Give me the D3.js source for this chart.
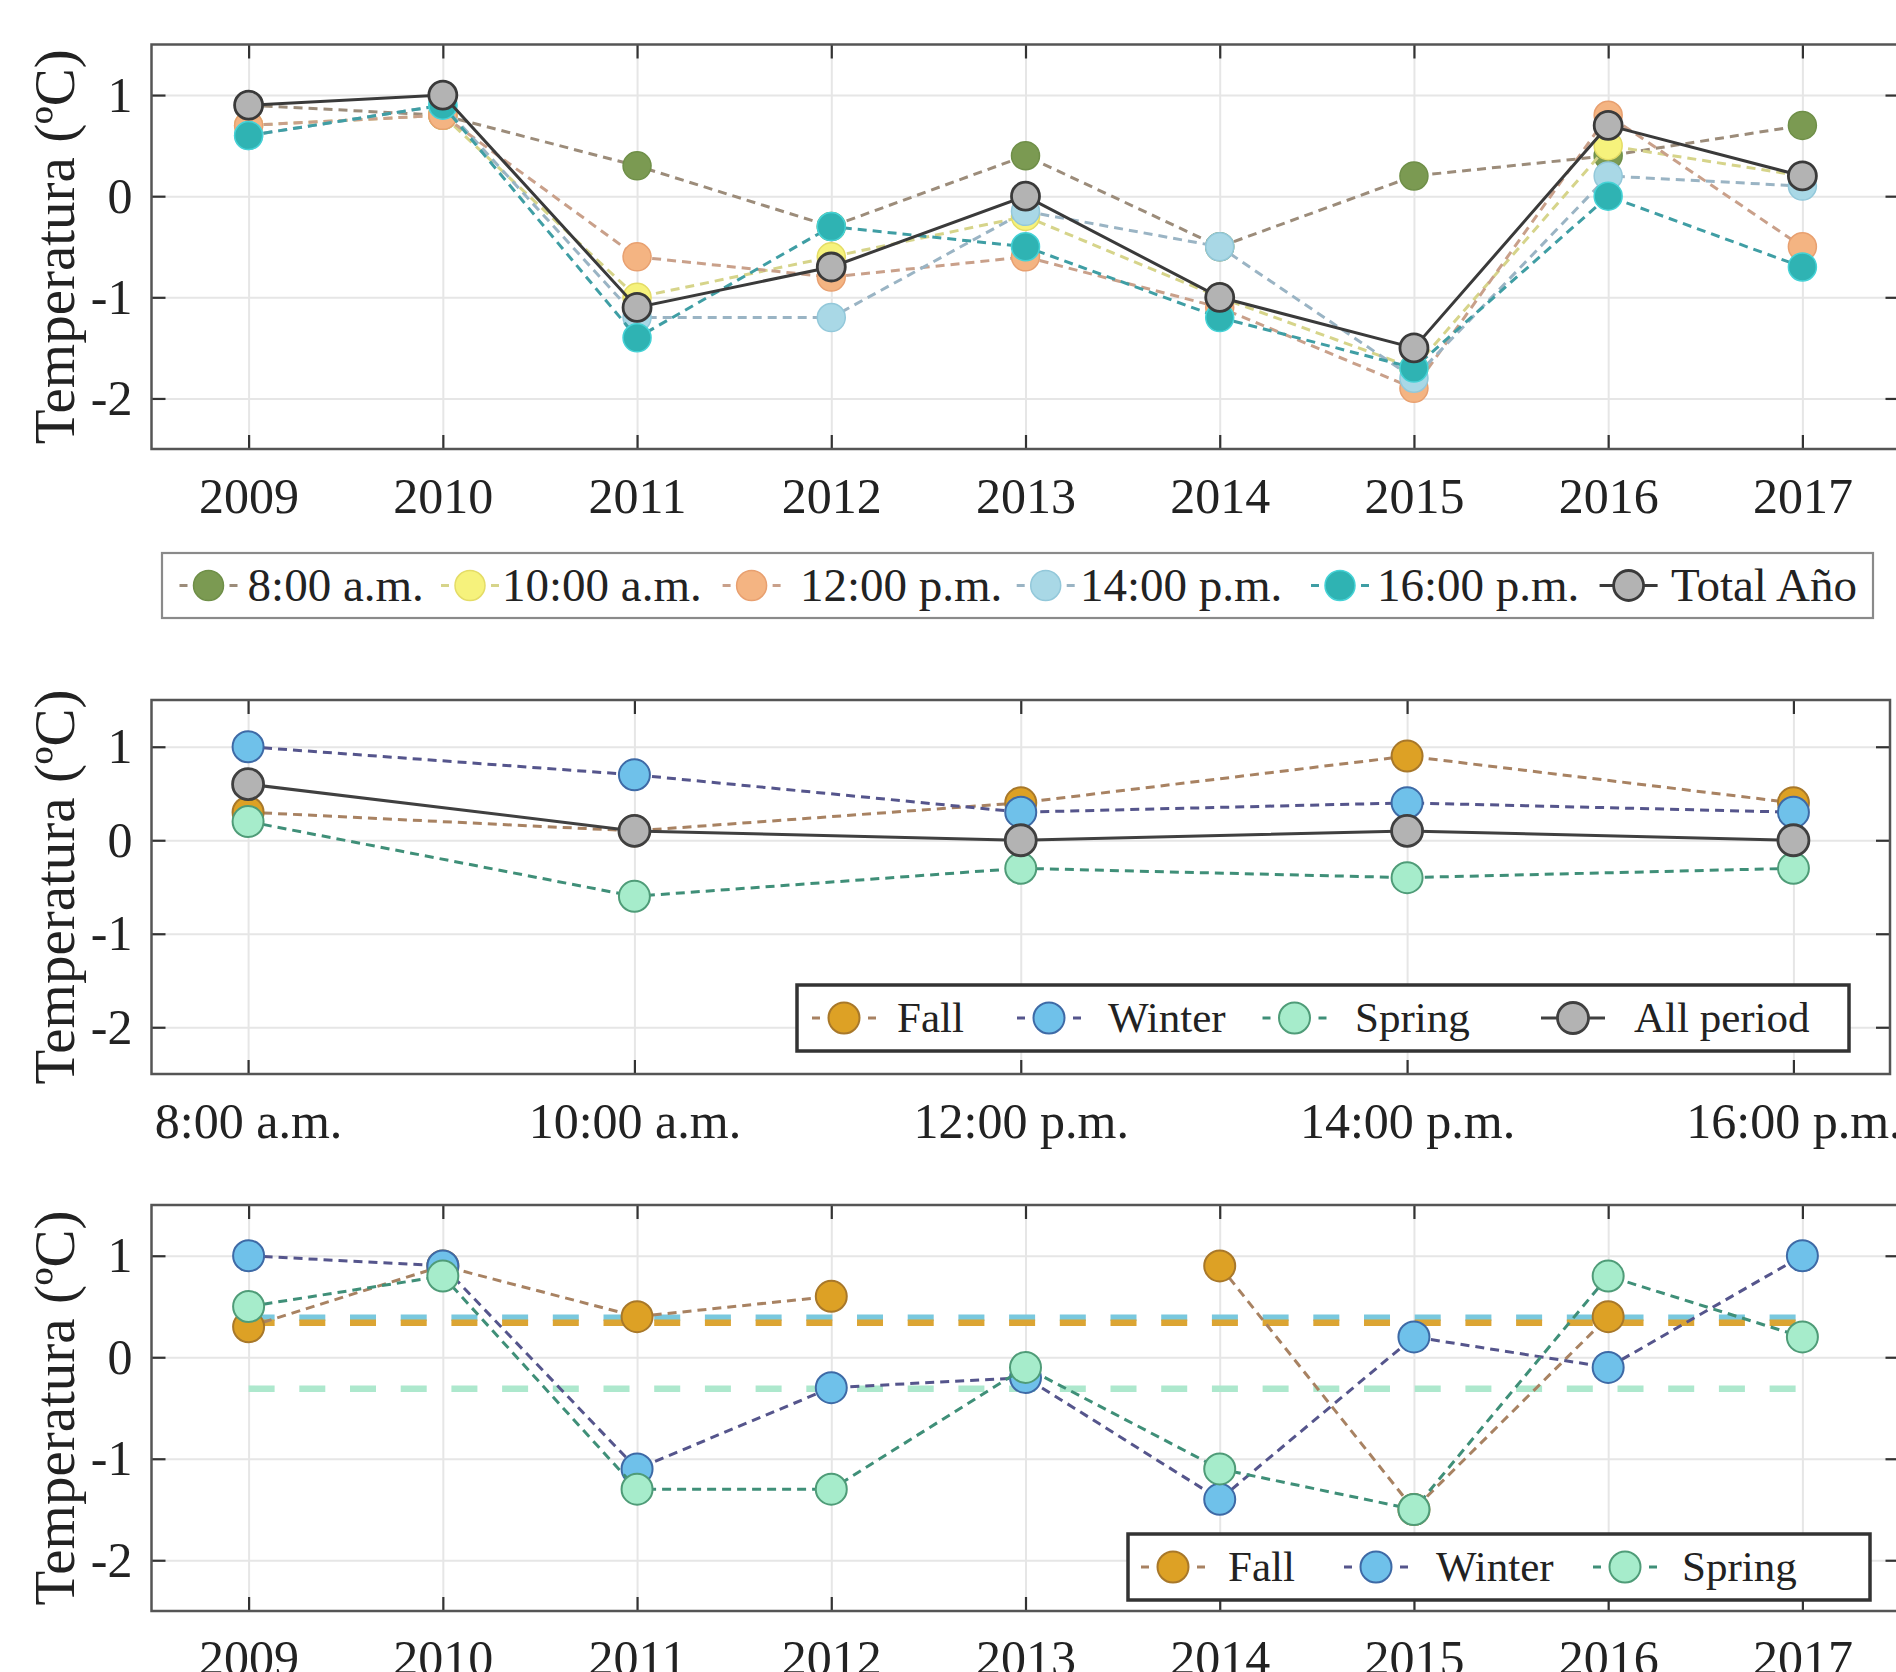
<!DOCTYPE html>
<html>
<head>
<meta charset="utf-8">
<script src="https://cdn.jsdelivr.net/npm/d3@7"></script>
<style>
  body { margin: 0; background: #fff; }
  svg { display: block; }
  text { font-family: "Liberation Serif", "Times New Roman", serif; fill: #222; }
</style>
</head>
<body>
<script>
// ---- data ----
var years = [2009, 2010, 2011, 2012, 2013, 2014, 2015, 2016, 2017];
var hours = ["8:00 a.m.", "10:00 a.m.", "12:00 p.m.", "14:00 p.m.", "16:00 p.m."];
var yTicks = [-2, -1, 0, 1];

// panel 1: anomaly per year for each hour
var hour8  = [0.9, 0.8, 0.3, -0.3, 0.4, -0.5, 0.2, 0.4, 0.7];
var hour10 = [0.7, 0.8, -1.0, -0.6, -0.2, -1.0, -1.7, 0.5, 0.2];
var hour12 = [0.7, 0.8, -0.6, -0.8, -0.6, -1.1, -1.9, 0.8, -0.5];
var hour14 = [0.6, 0.9, -1.2, -1.2, -0.15, -0.5, -1.8, 0.2, 0.1];
var hour16 = [0.6, 0.9, -1.4, -0.3, -0.5, -1.2, -1.7, 0.0, -0.7];
var totalYear = [0.9, 1.0, -1.1, -0.7, 0.0, -1.0, -1.5, 0.7, 0.2];

// panel 2: anomaly per hour for each season
var fallHour   = [0.3, 0.1, 0.4, 0.9, 0.4];
var winterHour = [1.0, 0.7, 0.3, 0.4, 0.3];
var springHour = [0.2, -0.6, -0.3, -0.4, -0.3];
var allHour    = [0.6, 0.1, 0.0, 0.1, 0.0];

// panel 3: anomaly per year for each season (null = no value)
var fallYear   = [0.3, 0.9, 0.4, 0.6, null, 0.9, -1.5, 0.4, null];
var winterYear = [1.0, 0.9, -1.1, -0.3, -0.2, -1.4, 0.2, -0.1, 1.0];
var springYear = [0.5, 0.8, -1.3, -1.3, -0.1, -1.1, -1.5, 0.8, 0.2];
var meanWinter = 0.39, meanFall = 0.34, meanSpring = -0.31;

var W = 1896, H = 1672;
var svg = d3.select("body").append("svg")
    .attr("width", W).attr("height", H);

function fmt(d){ return d < 0 ? "-" + Math.abs(d) : String(d); }

function panel(box, cats, pad, tickLabels){
    var g = svg.append("g");
    var x = d3.scalePoint().domain(cats).range([box.left, box.right]).padding(pad);
    var y = d3.scaleLinear().domain([-2.5, 1.5]).range([box.bottom, box.top]);
    var h = box.bottom - box.top, w = box.right - box.left;

    g.append("rect")
        .attr("x", box.left).attr("y", box.top)
        .attr("width", w).attr("height", h)
        .attr("fill", "#fff");

    // grid
    g.append("g").attr("transform", "translate(0," + box.bottom + ")")
        .call(d3.axisBottom(x).tickSize(-h).tickFormat(""))
        .call(function(s){ s.select(".domain").remove(); s.selectAll("line").attr("stroke", "#e6e6e6").attr("stroke-width", 2); });
    g.append("g").attr("transform", "translate(" + box.left + ",0)")
        .call(d3.axisLeft(y).tickValues(yTicks).tickSize(-w).tickFormat(""))
        .call(function(s){ s.select(".domain").remove(); s.selectAll("line").attr("stroke", "#e6e6e6").attr("stroke-width", 2); });

    // ticks
    function style(s){
        s.attr("font-family", null);
        s.select(".domain").remove();
        s.selectAll("line").attr("stroke", "#333").attr("stroke-width", 2.2);
        s.selectAll("text").attr("font-size", 50).attr("fill", "#222")
            .attr("font-family", "'Liberation Serif', 'Times New Roman', serif");
    }
    g.append("g").attr("transform", "translate(0," + box.bottom + ")")
        .call(d3.axisBottom(x).tickSize(-14).tickPadding(28).tickFormat(function(d, i){ return tickLabels[i]; }))
        .call(style);
    g.append("g").attr("transform", "translate(0," + box.top + ")")
        .call(d3.axisTop(x).tickSize(-14).tickFormat(""))
        .call(style);
    g.append("g").attr("transform", "translate(" + box.left + ",0)")
        .call(d3.axisLeft(y).tickValues(yTicks).tickSize(-14).tickPadding(19).tickFormat(fmt))
        .call(style);
    g.append("g").attr("transform", "translate(" + box.right + ",0)")
        .call(d3.axisRight(y).tickValues(yTicks).tickSize(-14).tickFormat(""))
        .call(style);

    g.append("rect")
        .attr("x", box.left).attr("y", box.top)
        .attr("width", w).attr("height", h)
        .attr("fill", "none").attr("stroke", "#555").attr("stroke-width", 2.5);

    g.append("text")
        .attr("transform", "translate(74," + (box.top + h / 2) + ") rotate(-90)")
        .attr("text-anchor", "middle")
        .attr("font-size", 57)
        .text("Temperatura (ºC)");

    return {g: g, x: x, y: y, plot: g.append("g")};
}

function series(p, cats, vals, s){
    var pts = cats.map(function(c, i){ return [c, vals[i]]; });
    var line = d3.line()
        .defined(function(d){ return d[1] != null; })
        .x(function(d){ return p.x(d[0]); })
        .y(function(d){ return p.y(d[1]); });
    p.plot.append("path")
        .attr("d", line(pts))
        .attr("fill", "none")
        .attr("stroke", s.line)
        .attr("stroke-width", s.dash ? 3 : 3)
        .attr("stroke-dasharray", s.dash ? "9,6" : null);
    p.plot.selectAll(null)
        .data(pts.filter(function(d){ return d[1] != null; }))
        .enter().append("circle")
        .attr("cx", function(d){ return p.x(d[0]); })
        .attr("cy", function(d){ return p.y(d[1]); })
        .attr("r", s.r)
        .attr("fill", s.fill)
        .attr("stroke", s.edge)
        .attr("stroke-width", s.ew);
}

function legend(box, items, centers, texts, fs, r, half, border){
    var g = svg.append("g");
    g.append("rect")
        .attr("x", box.left).attr("y", box.top)
        .attr("width", box.right - box.left).attr("height", box.bottom - box.top)
        .attr("fill", "#fff").attr("stroke", border.c).attr("stroke-width", border.w);
    var cy = (box.top + box.bottom) / 2;
    items.forEach(function(s, i){
        var cx = centers[i];
        var gap = 2 * half - 16;
        g.append("line")
            .attr("x1", cx - half).attr("x2", cx + half)
            .attr("y1", cy).attr("y2", cy)
            .attr("stroke", s.line).attr("stroke-width", 2.8)
            .attr("stroke-dasharray", s.dash ? "8," + gap + ",8" : null);
        g.append("circle")
            .attr("cx", cx).attr("cy", cy).attr("r", r)
            .attr("fill", s.fill).attr("stroke", s.edge).attr("stroke-width", s.ew);
        g.append("text")
            .attr("x", texts[i]).attr("y", cy + fs * 0.33)
            .attr("font-size", fs)
            .text(s.name);
    });
}

// ---- panel 1 ----
var p1 = panel({left: 151.5, right: 1899.5, top: 44.5, bottom: 449}, years, 0.5, years);
var s1 = [
    {name: "8:00 a.m.",  v: hour8,  fill: "#7b9a52", edge: "#6f8f48", line: "#9c8c7a", dash: true, r: 14, ew: 1.5},
    {name: "10:00 a.m.", v: hour10, fill: "#f6f27c", edge: "#e4dc66", line: "#d6d48a", dash: true, r: 14, ew: 1.5},
    {name: "12:00 p.m.", v: hour12, fill: "#f4b482", edge: "#e8a070", line: "#c9a08a", dash: true, r: 14, ew: 1.5},
    {name: "14:00 p.m.", v: hour14, fill: "#a9d8e6", edge: "#93c8da", line: "#9ab4c4", dash: true, r: 14, ew: 1.5},
    {name: "16:00 p.m.", v: hour16, fill: "#2fb3b3", edge: "#45d2d6", line: "#3f9ea4", dash: true, r: 14, ew: 1.5},
    {name: "Total Año",  v: totalYear, fill: "#b3b3b3", edge: "#3a3a3a", line: "#3a3a3a", dash: false, r: 14, ew: 2.8}
];
s1.forEach(function(s){ series(p1, years, s.v, s); });
legend({left: 162, right: 1873, top: 553, bottom: 618}, s1,
    [208.5, 470, 751.6, 1045.7, 1340, 1628.6],
    [247.6, 502, 800, 1080, 1377, 1671], 47, 15, 29, {c: "#8a8a8a", w: 2.2});

// ---- panel 2 ----
var p2 = panel({left: 151.5, right: 1890, top: 700, bottom: 1074}, hours, 0.25, hours);
var s2 = [
    {name: "Fall",       v: fallHour,   fill: "#dda125", edge: "#a8782a", line: "#a88262", dash: true, r: 15.5, ew: 2},
    {name: "Winter",     v: winterHour, fill: "#6fc1ea", edge: "#3e6aa6", line: "#55558c", dash: true, r: 15.5, ew: 2},
    {name: "Spring",     v: springHour, fill: "#a6eccb", edge: "#4f9c78", line: "#3f8f78", dash: true, r: 15.5, ew: 2},
    {name: "All period", v: allHour,    fill: "#b3b3b3", edge: "#404040", line: "#404040", dash: false, r: 15.5, ew: 2.8}
];
s2.forEach(function(s){ series(p2, hours, s.v, s); });
legend({left: 797, right: 1849, top: 985, bottom: 1051}, s2,
    [844, 1049, 1294.5, 1573],
    [897, 1108, 1355, 1634], 43, 15.5, 32, {c: "#333", w: 3.5});

// ---- panel 3 ----
var p3 = panel({left: 151.5, right: 1899.5, top: 1205, bottom: 1611}, years, 0.5, years);
var means = [
    {v: meanWinter, c: "#79c8de"},
    {v: meanFall,   c: "#dca533"},
    {v: meanSpring, c: "#ade8cd"}
];
means.forEach(function(m){
    p3.plot.append("line")
        .attr("x1", p3.x(years[0])).attr("x2", p3.x(years[years.length - 1]))
        .attr("y1", p3.y(m.v)).attr("y2", p3.y(m.v))
        .attr("stroke", m.c).attr("stroke-width", 6.5)
        .attr("stroke-dasharray", "26,24.7");
});
var s3 = [
    {name: "Fall",   v: fallYear,   fill: "#dda125", edge: "#a8782a", line: "#a88262", dash: true, r: 15.5, ew: 2},
    {name: "Winter", v: winterYear, fill: "#6fc1ea", edge: "#3e6aa6", line: "#55558c", dash: true, r: 15.5, ew: 2},
    {name: "Spring", v: springYear, fill: "#a6eccb", edge: "#4f9c78", line: "#3f8f78", dash: true, r: 15.5, ew: 2}
];
s3.forEach(function(s){ series(p3, years, s.v, s); });
legend({left: 1128, right: 1870, top: 1534, bottom: 1600}, s3,
    [1173, 1376, 1625],
    [1228, 1436, 1682], 43, 15.5, 32, {c: "#333", w: 3.5});
</script>
</body>
</html>
